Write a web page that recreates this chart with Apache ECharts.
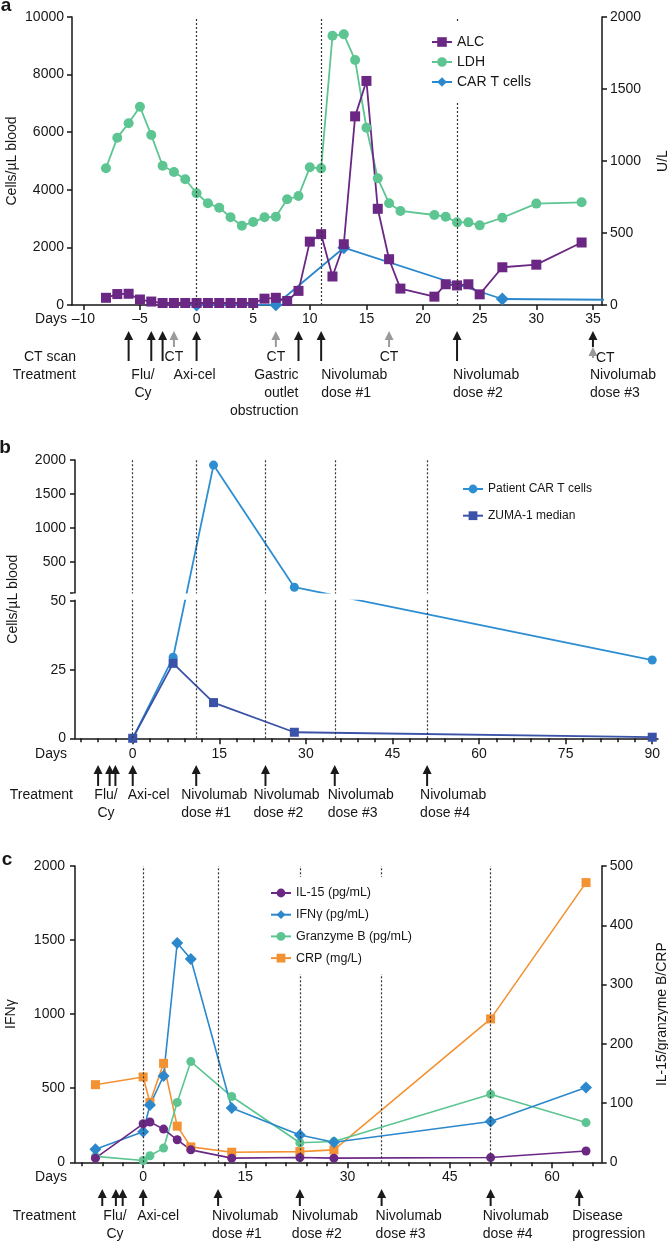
<!DOCTYPE html>
<html>
<head>
<meta charset="utf-8">
<script src="https://cdn.jsdelivr.net/npm/echarts@6/dist/echarts.min.js"></script>
<style>
html,body{margin:0;padding:0;background:#fff;}
#chart{width:668px;height:1242px;}
</style>
</head>
<body>
<div id="chart"></div>
<script>
// ================= DATA =================
// Panel a
const aDays = [-8,-7,-6,-5,-4,-3,-2,-1,0,1,2,3,4,5,6,7,8,9,10,11,12,13,14,15,16,17,18,21,22,23,24,25,27,30,34];
const aALC  = [250,380,390,190,120,70,70,70,70,70,70,70,70,70,220,250,140,490,2200,2460,990,2110,6550,7780,3340,1590,570,290,720,680,720,370,1310,1400,2170];
const aLDH  = [950,1162,1262,1377,1180,967,924,873,776,706,676,609,551,576,609,613,734,757,956,949,1870,1880,1701,1231,880,706,653,625,613,574,574,553,606,704,713];
const aCarDays = [0,7,13,27,90];
const aCar     = [0,10,1990,208,28];
const aXTicks  = [-10,-5,0,5,10,15,20,25,30,35];
const aVLines  = [0,11,23];

// Panel b
const bDays    = [0,7,14,28,90];
const bPatient = [0,29.5,1925,125,28.5];
const bZuma    = [0,27.3,13,2.2,0.4];
const bXLabels = [0,15,30,45,60,75,90];
const bYLabels = [0,25,50,500,1000,1500,2000];
const bVLines  = [0,11,23,35,51];

// Panel c
const cDays     = [-7,0,1,3,5,7,13,23,28,51,65];
const cIL15     = [7,65,68,56,38,21,7,8,7,8,19];
const cIFNg     = [88,207,387,583,1480,1372,367,184,135,275,505];
const cGranzyme = [10,3,11,24,101,170,111,33,35,115,67];
const cCRP      = [131,144,101,167,61,26,17,18,21,242,472];
const cXLabels  = [0,15,30,45,60];
const cVLines   = [0,11,23,35,51];

// Annotation days
const aArrowBlack = [-6,-4,-3,0,9,11,23];
const aArrowGray  = [-2,7,17];
const bArrows = [-6,-4,-3,0,11,23,35,51];
const cArrows = [-6,-4,-3,0,11,23,35,51,64];

// ================= STYLE =================
const FONT = "'Liberation Sans', Arial, Helvetica, sans-serif";
const INK = '#161616';
const C_PURPLE = '#6b2784', C_GREEN = '#5dc592', C_BLUE = '#2b88cc';
const C_BPAT = '#2e8ed2', C_BZUMA = '#3a52a8';
const C_ORANGE = '#f39233';

// broken axis for panel b (segment heights in px)
const B_LOW_PX = 137.3, B_GAP = 8.7, B_UP_PX = 132.3;
function bT(v, forceUpper) {
  if (v <= 50 && !forceUpper) return v * B_LOW_PX / 50;
  return B_LOW_PX + B_GAP + (v - 50) * B_UP_PX / 1950;
}
const bYLabelPos = bYLabels.map(v => bT(v));
const bYTickPos = bYLabelPos.concat([bT(50, true)]);
const bLabelMap = new Map(bYLabels.map(v => [bT(v).toFixed(2), String(v)]));

function range3(a, b) { const r = []; for (let v = a; v <= b; v += 3) r.push(v); return r; }
const bXMinor = range3(-9, 90);
const cXMinor = range3(-9, 66);

const fmtDay = v => v < 0 ? '\u2013' + (-v) : String(v);
const fmtPlain = v => String(v);
const axLine = {show: true, onZero: false, lineStyle: {color: INK, width: 1.5}};
const tick = (len, vals) => Object.assign({show: true, length: len, inside: false, lineStyle: {color: INK, width: 1.5}}, vals ? {customValues: vals} : {});
const lab = extra => Object.assign({color: INK, fontSize: 14, fontFamily: FONT, formatter: fmtPlain}, extra || {});
const nameStyle = {color: INK, fontSize: 14, fontFamily: FONT};
const noSplit = {show: false};
const pairs = (xs, ys, f) => xs.map((d, i) => [d, f ? f(ys[i]) : ys[i]]);
const vline = days => ({silent: true, symbol: ['none', 'none'], label: {show: false},
  lineStyle: {type: [2, 2], color: '#333', width: 1.2}, emphasis: {disabled: true},
  data: days.map(d => ({xAxis: d}))});
const yName = (name, gap) => ({name: name, nameLocation: 'middle', nameGap: gap, nameRotate: 90,
  nameMoveOverlap: false, nameTextStyle: nameStyle});

const option = {
  animation: false,
  backgroundColor: '#fff',
  textStyle: {fontFamily: FONT},
  grid: [
    {left: 72, top: 17, width: 530, height: 288, outerBoundsMode: 'none'},
    {left: 75, top: 460, width: 583, height: B_LOW_PX + B_GAP + B_UP_PX, outerBoundsMode: 'none'},
    {left: 75, top: 866, width: 526.7, height: 296.3, outerBoundsMode: 'none'}
  ],
  xAxis: [
    {gridIndex: 0, type: 'value', min: -11, max: 35.8, axisLine: axLine, axisTick: tick(5, aXTicks),
     axisLabel: lab({customValues: aXTicks, formatter: fmtDay, margin: 7}), splitLine: noSplit},
    {gridIndex: 1, type: 'value', min: -10, max: 91, position: 'bottom', axisLine: axLine, axisTick: tick(6, bXLabels),
     axisLabel: lab({customValues: bXLabels, margin: 9}), splitLine: noSplit},
    {gridIndex: 1, type: 'value', min: -10, max: 91, position: 'bottom', axisLine: {show: false}, axisTick: tick(4, bXMinor),
     axisLabel: {show: false}, splitLine: noSplit},
    {gridIndex: 2, type: 'value', min: -10, max: 67.3, position: 'bottom', axisLine: axLine, axisTick: tick(6, cXLabels),
     axisLabel: lab({customValues: cXLabels, margin: 8}), splitLine: noSplit},
    {gridIndex: 2, type: 'value', min: -10, max: 67.3, position: 'bottom', axisLine: {show: false}, axisTick: tick(4, cXMinor),
     axisLabel: {show: false}, splitLine: noSplit}
  ],
  yAxis: [
    Object.assign({gridIndex: 0, type: 'value', min: 0, max: 10000, interval: 2000, position: 'left',
     axisLine: axLine, axisTick: tick(5), axisLabel: lab({margin: 8}), splitLine: noSplit}, yName('Cells/\u00B5L blood', 53)),
    Object.assign({gridIndex: 0, type: 'value', min: 0, max: 2000, interval: 500, position: 'right',
     axisLine: axLine, axisTick: tick(5), axisLabel: lab({margin: 8}), splitLine: noSplit}, yName('U/L', 54)),
    Object.assign({gridIndex: 1, type: 'value', min: 0, max: B_LOW_PX + B_GAP + B_UP_PX, position: 'left',
     axisLine: axLine, axisTick: tick(5, bYTickPos),
     axisLabel: lab({customValues: bYLabelPos, margin: 9, formatter: v => bLabelMap.get(v.toFixed(2)) || ''}),
     splitLine: noSplit}, yName('Cells/\u00B5L blood', 55)),
    Object.assign({gridIndex: 2, type: 'value', min: 0, max: 2000, interval: 500, position: 'left',
     axisLine: axLine, axisTick: tick(5), axisLabel: lab({margin: 10}), splitLine: noSplit}, yName('IFN\u03B3', 57)),
    Object.assign({gridIndex: 2, type: 'value', min: 0, max: 500, interval: 100, position: 'right',
     axisLine: axLine, axisTick: tick(5), axisLabel: lab({margin: 8}), splitLine: noSplit}, yName('IL-15/granzyme B/CRP', 53))
  ],
  legend: [
    {orient: 'vertical', left: 425, top: 22, padding: [12, 6, 12, 6], itemGap: 4, itemWidth: 20, itemHeight: 12,
     data: ['ALC', 'LDH', 'CAR T cells'], selectedMode: false, backgroundColor: '#fff', z: 10,
     textStyle: {fontSize: 14, color: INK, fontFamily: FONT, lineHeight: 16}},
    {orient: 'vertical', left: 462, top: 482, padding: 0, itemGap: 12.7, itemWidth: 20, itemHeight: 11,
     data: ['Patient CAR T cells', 'ZUMA-1 median'], selectedMode: false, z: 10,
     textStyle: {fontSize: 12, color: INK, fontFamily: FONT, lineHeight: 14}},
    {orient: 'vertical', left: 262, top: 877, padding: [9, 8, 9, 8], itemGap: 7.7, itemWidth: 20, itemHeight: 11,
     data: ['IL-15 (pg/mL)', 'IFN\u03B3 (pg/mL)', 'Granzyme B (pg/mL)', 'CRP (mg/L)'], selectedMode: false,
     backgroundColor: '#fff', z: 10,
     textStyle: {fontSize: 12.5, color: INK, fontFamily: FONT, lineHeight: 14}}
  ],
  series: [
    // panel a
    {name: 'CAR T cells', type: 'line', xAxisIndex: 0, yAxisIndex: 0, data: pairs(aCarDays, aCar),
     symbol: 'diamond', symbolSize: 13, clip: true, itemStyle: {color: C_BLUE}, lineStyle: {color: C_BLUE, width: 1.8}},
    {name: 'LDH', type: 'line', xAxisIndex: 0, yAxisIndex: 1, data: pairs(aDays, aLDH),
     symbol: 'circle', symbolSize: 10, itemStyle: {color: C_GREEN}, lineStyle: {color: C_GREEN, width: 1.8}},
    {name: 'ALC', type: 'line', xAxisIndex: 0, yAxisIndex: 0, data: pairs(aDays, aALC),
     symbol: 'rect', symbolSize: 10, itemStyle: {color: C_PURPLE}, lineStyle: {color: C_PURPLE, width: 1.8},
     markLine: vline(aVLines)},
    // panel b
    {name: 'Patient CAR T cells', type: 'line', xAxisIndex: 1, yAxisIndex: 2, data: pairs(bDays, bPatient, bT),
     symbol: 'circle', symbolSize: 9, itemStyle: {color: C_BPAT}, lineStyle: {color: C_BPAT, width: 1.8},
     markLine: vline(bVLines)},
    {name: 'ZUMA-1 median', type: 'line', xAxisIndex: 1, yAxisIndex: 2, data: pairs(bDays, bZuma, bT),
     symbol: 'rect', symbolSize: 9, itemStyle: {color: C_BZUMA}, lineStyle: {color: C_BZUMA, width: 1.8}},
    // panel c
    {name: 'CRP (mg/L)', type: 'line', xAxisIndex: 3, yAxisIndex: 4, data: pairs(cDays, cCRP),
     symbol: 'rect', symbolSize: 9, itemStyle: {color: C_ORANGE}, lineStyle: {color: C_ORANGE, width: 1.6},
     markLine: vline(cVLines)},
    {name: 'Granzyme B (pg/mL)', type: 'line', xAxisIndex: 3, yAxisIndex: 4, data: pairs(cDays, cGranzyme),
     symbol: 'circle', symbolSize: 9, itemStyle: {color: C_GREEN}, lineStyle: {color: C_GREEN, width: 1.6}},
    {name: 'IFN\u03B3 (pg/mL)', type: 'line', xAxisIndex: 3, yAxisIndex: 3, data: pairs(cDays, cIFNg),
     symbol: 'diamond', symbolSize: 12, itemStyle: {color: C_BLUE}, lineStyle: {color: C_BLUE, width: 1.6}},
    {name: 'IL-15 (pg/mL)', type: 'line', xAxisIndex: 3, yAxisIndex: 4, data: pairs(cDays, cIL15),
     symbol: 'circle', symbolSize: 9, itemStyle: {color: C_PURPLE}, lineStyle: {color: C_PURPLE, width: 1.6}}
  ]
};

const chart = echarts.init(document.getElementById('chart'), null, {renderer: 'canvas'});
chart.setOption(option);

// ================= ANNOTATIONS =================
const X = (ax, d) => chart.convertToPixel({xAxisIndex: ax}, d);
const Y = (ax, v) => chart.convertToPixel({yAxisIndex: ax}, v);
const G = [];
function txt(x, y, s, align, extra) {
  G.push({type: 'text', x: x, y: y, z: 100, silent: true,
    style: Object.assign({text: s, fill: INK, fontSize: 14, fontFamily: FONT, align: align || 'center',
      verticalAlign: 'top', lineHeight: 18}, extra || {})});
}
function mid(x, y, s, align, extra) { txt(x, y - 9, s, align, extra); }
function arrow(x, yTip, yEnd, color) {
  G.push({type: 'line', z: 100, silent: true, shape: {x1: x, y1: yTip + 7, x2: x, y2: yEnd}, style: {stroke: color, lineWidth: 2}});
  G.push({type: 'polygon', z: 100, silent: true, shape: {points: [[x, yTip], [x - 4.5, yTip + 9], [x + 4.5, yTip + 9]]}, style: {fill: color}});
}
const GRAY = '#9a9a9a', BLACK = '#1a1a1a';

// panel letters
mid(6, 6, 'a', 'center', {fontSize: 19, fontWeight: 'bold'});
mid(5, 448, 'b', 'center', {fontSize: 19, fontWeight: 'bold'});
mid(7, 860, 'c', 'center', {fontSize: 19, fontWeight: 'bold'});

// panel a
mid(67, 319, 'Days', 'right');
aArrowBlack.forEach(d => arrow(X(0, d), 331, 361, BLACK));
aArrowGray.forEach(d => { arrow(X(0, d), 331, 347, GRAY); mid(X(0, d), 357, 'CT'); });
arrow(X(0, 35), 331, 347, BLACK);
arrow(X(0, 35), 347, 358, GRAY);
mid(X(0, 35) + 3, 358, 'CT', 'left');
mid(76, 357, 'CT scan', 'right');
mid(76, 375, 'Treatment', 'right');
mid(143, 375, 'Flu/\nCy', 'center');
mid(X(0, 0) - 2, 375, 'Axi-cel', 'center');
mid(X(0, 9), 375, 'Gastric\noutlet\nobstruction', 'right');
mid(X(0, 11), 375, 'Nivolumab\ndose #1', 'left');
mid(X(0, 23) - 4, 375, 'Nivolumab\ndose #2', 'left');
mid(X(0, 35) - 3, 375, 'Nivolumab\ndose #3', 'left');

// panel b break band (covers axis line, dotted lines and series between segments)
const yLow50 = Y(2, bT(50)), yUp50 = Y(2, bT(50, true));
G.push({type: 'rect', z: 90, silent: true, shape: {x: 73, y: yUp50 + 1.2, width: 592, height: (yLow50 - yUp50) - 2.4}, style: {fill: '#fff'}});

mid(67, 754, 'Days', 'right');
bArrows.forEach(d => arrow(X(1, d), 765, 786, BLACK));
mid(73, 795, 'Treatment', 'right');
mid(106, 795, 'Flu/\nCy', 'center');
mid(X(1, 0) - 5, 795, 'Axi-cel', 'left');
mid(X(1, 11) - 15, 795, 'Nivolumab\ndose #1', 'left');
mid(X(1, 23) - 12, 795, 'Nivolumab\ndose #2', 'left');
mid(X(1, 35) - 7, 795, 'Nivolumab\ndose #3', 'left');
mid(X(1, 51) - 7, 795, 'Nivolumab\ndose #4', 'left');

// panel c
mid(67, 1177, 'Days', 'right');
cArrows.forEach(d => arrow(X(3, d), 1189, 1206, BLACK));
mid(76, 1216, 'Treatment', 'right');
mid(115, 1216, 'Flu/\nCy', 'center');
mid(X(3, 0) - 6, 1216, 'Axi-cel', 'left');
mid(X(3, 11) - 6, 1216, 'Nivolumab\ndose #1', 'left');
mid(X(3, 23) - 8, 1216, 'Nivolumab\ndose #2', 'left');
mid(X(3, 35) - 6, 1216, 'Nivolumab\ndose #3', 'left');
mid(X(3, 51) - 8, 1216, 'Nivolumab\ndose #4', 'left');
mid(X(3, 64) - 7, 1216, 'Disease\nprogression', 'left');

chart.setOption({graphic: {elements: G}});
</script>
</body>
</html>
